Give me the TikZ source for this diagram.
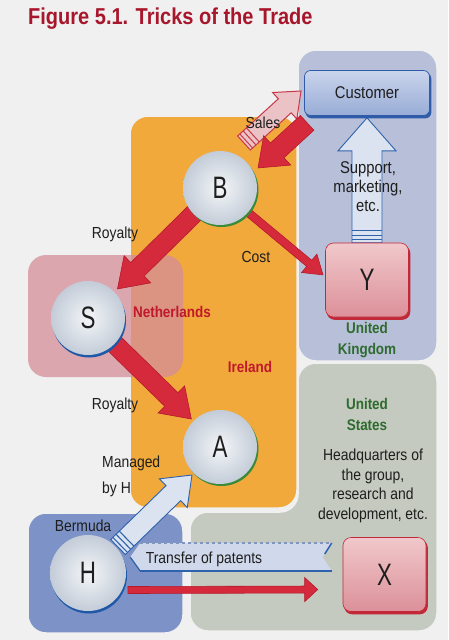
\documentclass[tikz,border=0pt]{standalone}
\usepackage{fontspec}
\setmainfont{Liberation Sans}[FakeStretch=0.87]
\newfontfamily\bigletters{Liberation Sans}[FakeStretch=0.72]
\usetikzlibrary{calc}
\pgfdeclarelayer{bg}
\pgfdeclarelayer{arrows}
\pgfdeclarelayer{rims}
\pgfsetlayers{bg,arrows,rims,main}
\definecolor{bgc}{HTML}{F0F0F0}
\definecolor{orangereg}{HTML}{F2A93B}
\definecolor{ukblue}{HTML}{B8C0D9}
\definecolor{usgreen}{HTML}{C4CABF}
\definecolor{nlpink}{HTML}{D48E99}
\definecolor{bermblue}{HTML}{7D92C6}
\definecolor{titlered}{HTML}{A8162C}
\definecolor{txt}{HTML}{1E1E1E}
\definecolor{redtxt}{HTML}{C0182C}
\definecolor{greentxt}{HTML}{2F6B2F}
\definecolor{ballin}{HTML}{F4F6F8}
\definecolor{ballout}{HTML}{C3CCD8}
\definecolor{greenrim}{HTML}{3A8A3A}
\definecolor{bluerim}{HTML}{1F58A6}
\definecolor{custtop}{HTML}{CAD4EC}
\definecolor{custbot}{HTML}{98ACD6}
\definecolor{custedge}{HTML}{2E5CA8}
\definecolor{pinktop}{HTML}{F0C8CB}
\definecolor{pinkbot}{HTML}{DC9099}
\definecolor{pinkedge}{HTML}{C22838}
\definecolor{arrowred}{HTML}{D42A3C}
\definecolor{arrowreddk}{HTML}{B51A2C}
\definecolor{arrowblue}{HTML}{DCE3F0}
\definecolor{arrowbluedk}{HTML}{2E62AC}
\definecolor{salespink}{HTML}{EBC3C7}
\definecolor{salesedge}{HTML}{C83848}
\definecolor{bannerblue}{HTML}{D0D9EB}
\definecolor{bannerdash}{HTML}{8096BE}
% #1 start, #2 end, #3 shaft half width, #4 head half width, #5 head length, #6 style
\newcommand\fatarrow[6]{%
  \path[#6] let \p1=#1, \p2=#2, \n1={atan2(\y2-\y1,\x2-\x1)}, \n2={veclen(\x2-\x1,\y2-\y1)} in
  [shift={(\p1)}, rotate=\n1] (0,#3) -- ({\n2-#5},#3) -- ({\n2-#5},#4) -- (\n2,0) -- ({\n2-#5},-#4) -- ({\n2-#5},-#3) -- (0,-#3) -- cycle;}
% #1 start, #2 end, #3 half width, #4 first stripe position, #5 style
\newcommand\arrowstripes[5]{%
  \path[#5] let \p1=#1, \p2=#2, \n1={atan2(\y2-\y1,\x2-\x1)} in
  [shift={(\p1)}, rotate=\n1] (#4,-#3) -- (#4,#3) ({#4+4.5},-#3) -- ({#4+4.5},#3) ({#4+9},-#3) -- ({#4+9},#3);}
\begin{document}
\begin{tikzpicture}[x=1pt,y=-1pt,
  region/.style={draw=bgc, line width=1.5pt, rounded corners=18pt},
  ball/.style={circle, minimum size=74pt, inner sep=0pt, inner color=ballin, outer color=ballout,
    font=\bigletters\fontsize{31}{31}\selectfont, text=txt},
  custbox/.style={rounded corners=6pt, minimum width=125pt, minimum height=45pt, inner sep=0pt,
    top color=custtop, bottom color=custbot, draw=custedge, line width=0.7pt,
    font=\fontsize{17}{20}\selectfont, text=txt},
  pinkbox/.style={rounded corners=8pt, minimum width=83pt, minimum height=74pt, inner sep=0pt,
    top color=pinktop, bottom color=pinkbot, draw=pinkedge, line width=0.6pt,
    font=\bigletters\fontsize{31}{31}\selectfont, text=txt},
  lbl/.style={font=\fontsize{16}{19}\selectfont, text=txt, inner sep=0pt},
  redlbl/.style={font=\bfseries\fontsize{15.5}{18}\selectfont, text=redtxt, inner sep=0pt},
  greenlbl/.style={font=\bfseries\fontsize{15.5}{21}\selectfont, text=greentxt, align=center, inner sep=0pt},
  redarrow/.style={fill=arrowred, draw=arrowreddk, line width=0.6pt},
  bluearrow/.style={fill=arrowblue, draw=arrowbluedk, line width=0.9pt},
  salesarrow/.style={fill=salespink, draw=salesedge, line width=1pt},
  bluestripe/.style={draw=arrowbluedk, line width=1.1pt},
  pinkstripe/.style={draw=salesedge, line width=1pt}]

\useasboundingbox (0,0) rectangle (448,640);

% ---------- regions ----------
\begin{pgfonlayer}{bg}
  \fill[bgc] (0,0) rectangle (448,640);
  \path[region, fill=orangereg] (130,116) rectangle (297,508);
  \path[region, fill=ukblue] (298,50) rectangle (437,361);
  \path[region, fill=usgreen] (298,363) -- (437,363) -- (437,631) -- (190,631) -- (190,512) -- (298,512) -- cycle;
  \fill[nlpink, fill opacity=0.75, rounded corners=18pt] (28,255) rectangle (183,377);
  \path[region, fill=bermblue] (28,513) rectangle (183,633);
\end{pgfonlayer}

% ---------- title ----------
\node[font=\bfseries\fontsize{23}{26}\selectfont, text=titlered, anchor=base west, inner sep=0pt] (title) at (28,24) {Figure 5.1. Tricks of the Trade};

% ---------- nodes ----------
\node[ball] (B) at (220,188) {B};
\node[ball] (S) at (88,318) {S};
\node[ball] (A) at (220,447) {A};
\node[ball, minimum size=76pt] (H) at (88,573) {H};
\node[custbox] (Cust) at (367,93) {Customer};
\node[pinkbox] (Y) at (367,280) {Y};
\node[pinkbox] (X) at (384.5,574.5) {X};

% ---------- rims ----------
\begin{pgfonlayer}{rims}
  \fill[greenrim] ($(B)+(1.5,2)$) circle[radius=37pt];
  \fill[greenrim] ($(A)+(1.5,2)$) circle[radius=37pt];
  \fill[bluerim] ($(S)+(1,2.5)$) circle[radius=37pt];
  \fill[bluerim] ($(H)+(1,2.5)$) circle[radius=38pt];
  \fill[custedge, rounded corners=6pt] ($(Cust.north west)+(1.5,2.5)$) rectangle ($(Cust.south east)+(1.5,2.5)$);
  \fill[pinkedge, rounded corners=8pt] ($(Y.north west)+(1.5,2.5)$) rectangle ($(Y.south east)+(1.5,2.5)$);
  \fill[pinkedge, rounded corners=8pt] ($(X.north west)+(1.5,2.5)$) rectangle ($(X.south east)+(1.5,2.5)$);
\end{pgfonlayer}

% ---------- arrows ----------
\begin{pgfonlayer}{arrows}
  % Y -> Customer (support)
  \coordinate (ysup) at (Y.north);
  \coordinate (csup) at ($(Cust.south)+(0,2)$);
  \fatarrow{(ysup)}{(csup)}{15}{29}{33}{bluearrow}
  \arrowstripes{(ysup)}{(csup)}{15}{3}{bluestripe}
  % sales B -> Customer
  \coordinate (salesT) at ($(B)+(24,-45)$);
  \coordinate (salesH) at ($(Cust.south west)+(-3,-25)$);
  \fatarrow{(salesT)}{(salesH)}{9.5}{18}{22}{salesarrow}
  \arrowstripes{(salesT)}{(salesH)}{9.5}{3}{pinkstripe}
  % Customer -> B (red)
  \coordinate (cbT) at ($(Cust.south west)+(3,7)$);
  \coordinate (cbH) at ($(B)+(38,-20)$);
  \fatarrow{(cbT)}{(cbH)}{10}{20}{26}{redarrow}
  % B -> S royalty
  \fatarrow{($(B)!30pt!(S)$)}{($(S)!41pt!(B)$)}{9.5}{19}{28}{redarrow}
  % S -> A royalty
  \fatarrow{($(S)!30pt!(A)$)}{($(A)!40pt!(S)$)}{9.5}{19}{28}{redarrow}
  % B -> Y cost
  \fatarrow{($(B)!33pt!(Y.west)$)}{($(Y.west)+(-2,-5)$)}{4}{12}{18}{redarrow}
  % H -> A managed
  \coordinate (haT) at ($(H)+(30,-26)$);
  \coordinate (haH) at ($(A)+(-28,28)$);
  \fatarrow{(haT)}{(haH)}{10.5}{20}{26}{bluearrow}
  \arrowstripes{(haT)}{(haH)}{10.5}{3}{bluestripe}
  % H -> X (red)
  \fatarrow{($(H)+(40,17)$)}{($(X.west)+(-25,15)$)}{3.5}{12}{13}{redarrow}
  % transfer of patents banner (X -> H)
  \coordinate (bl) at ($(H.east)+(4,-16)$);
  \coordinate (br) at ($(X.west)+(-11,-17.5)$);
  \fill[bannerblue] (bl) -- ($(bl)+(10,-14)$) -- ($(br)+(0,-14)$) -- ($(br)+(-9,0)$) -- ($(br)+(0,14)$) -- ($(bl)+(10,14)$) -- cycle;
  \draw[bannerdash, dashed, line width=1.5pt] ($(bl)+(10,-14)$) -- ($(br)+(0,-14)$);
  \draw[arrowbluedk, line width=2pt] ($(bl)+(10,14)$) -- ($(br)+(0,14)$);
  \draw[arrowbluedk, line width=1.5pt] ($(br)+(0,-14)$) -- ($(br)+(-7,-3)$);
  \draw[arrowbluedk, line width=1.2pt] (bl) -- ($(bl)+(10,14)$);
\end{pgfonlayer}

% ---------- labels ----------
\node[lbl, anchor=base] (lsales) at (263,128) {Sales};
\node[lbl, anchor=base] (lroy1) at (115,238) {Royalty};
\node[lbl, anchor=base] (lcost) at (256,262) {Cost};
\node[redlbl, anchor=base] (lnl) at (172,317) {Netherlands};
\node[redlbl, anchor=base] (lie) at (250,372) {Ireland};
\node[lbl, anchor=base] (lroy2) at (115,409) {Royalty};
\node[lbl, anchor=north west, align=left, font=\fontsize{16}{26}\selectfont] (lman) at (102,456) {Managed\\by H};
\node[lbl, align=center, font=\fontsize{17}{19}\selectfont] (lsup) at (368,187) {Support,\\marketing,\\etc.};
\node[greenlbl] (luk) at (367,340) {United\\Kingdom};
\node[greenlbl] (lus) at (367,414) {United\\States};
\node[lbl, align=center, font=\fontsize{16}{19.5}\selectfont] (lhq) at (373,486) {Headquarters of\\the group,\\research and\\development, etc.};
\node[lbl, anchor=base] (lberm) at (83,531) {Bermuda};
\node[lbl, anchor=base] (ltrans) at (204,563) {Transfer of patents};
\end{tikzpicture}
\end{document}
